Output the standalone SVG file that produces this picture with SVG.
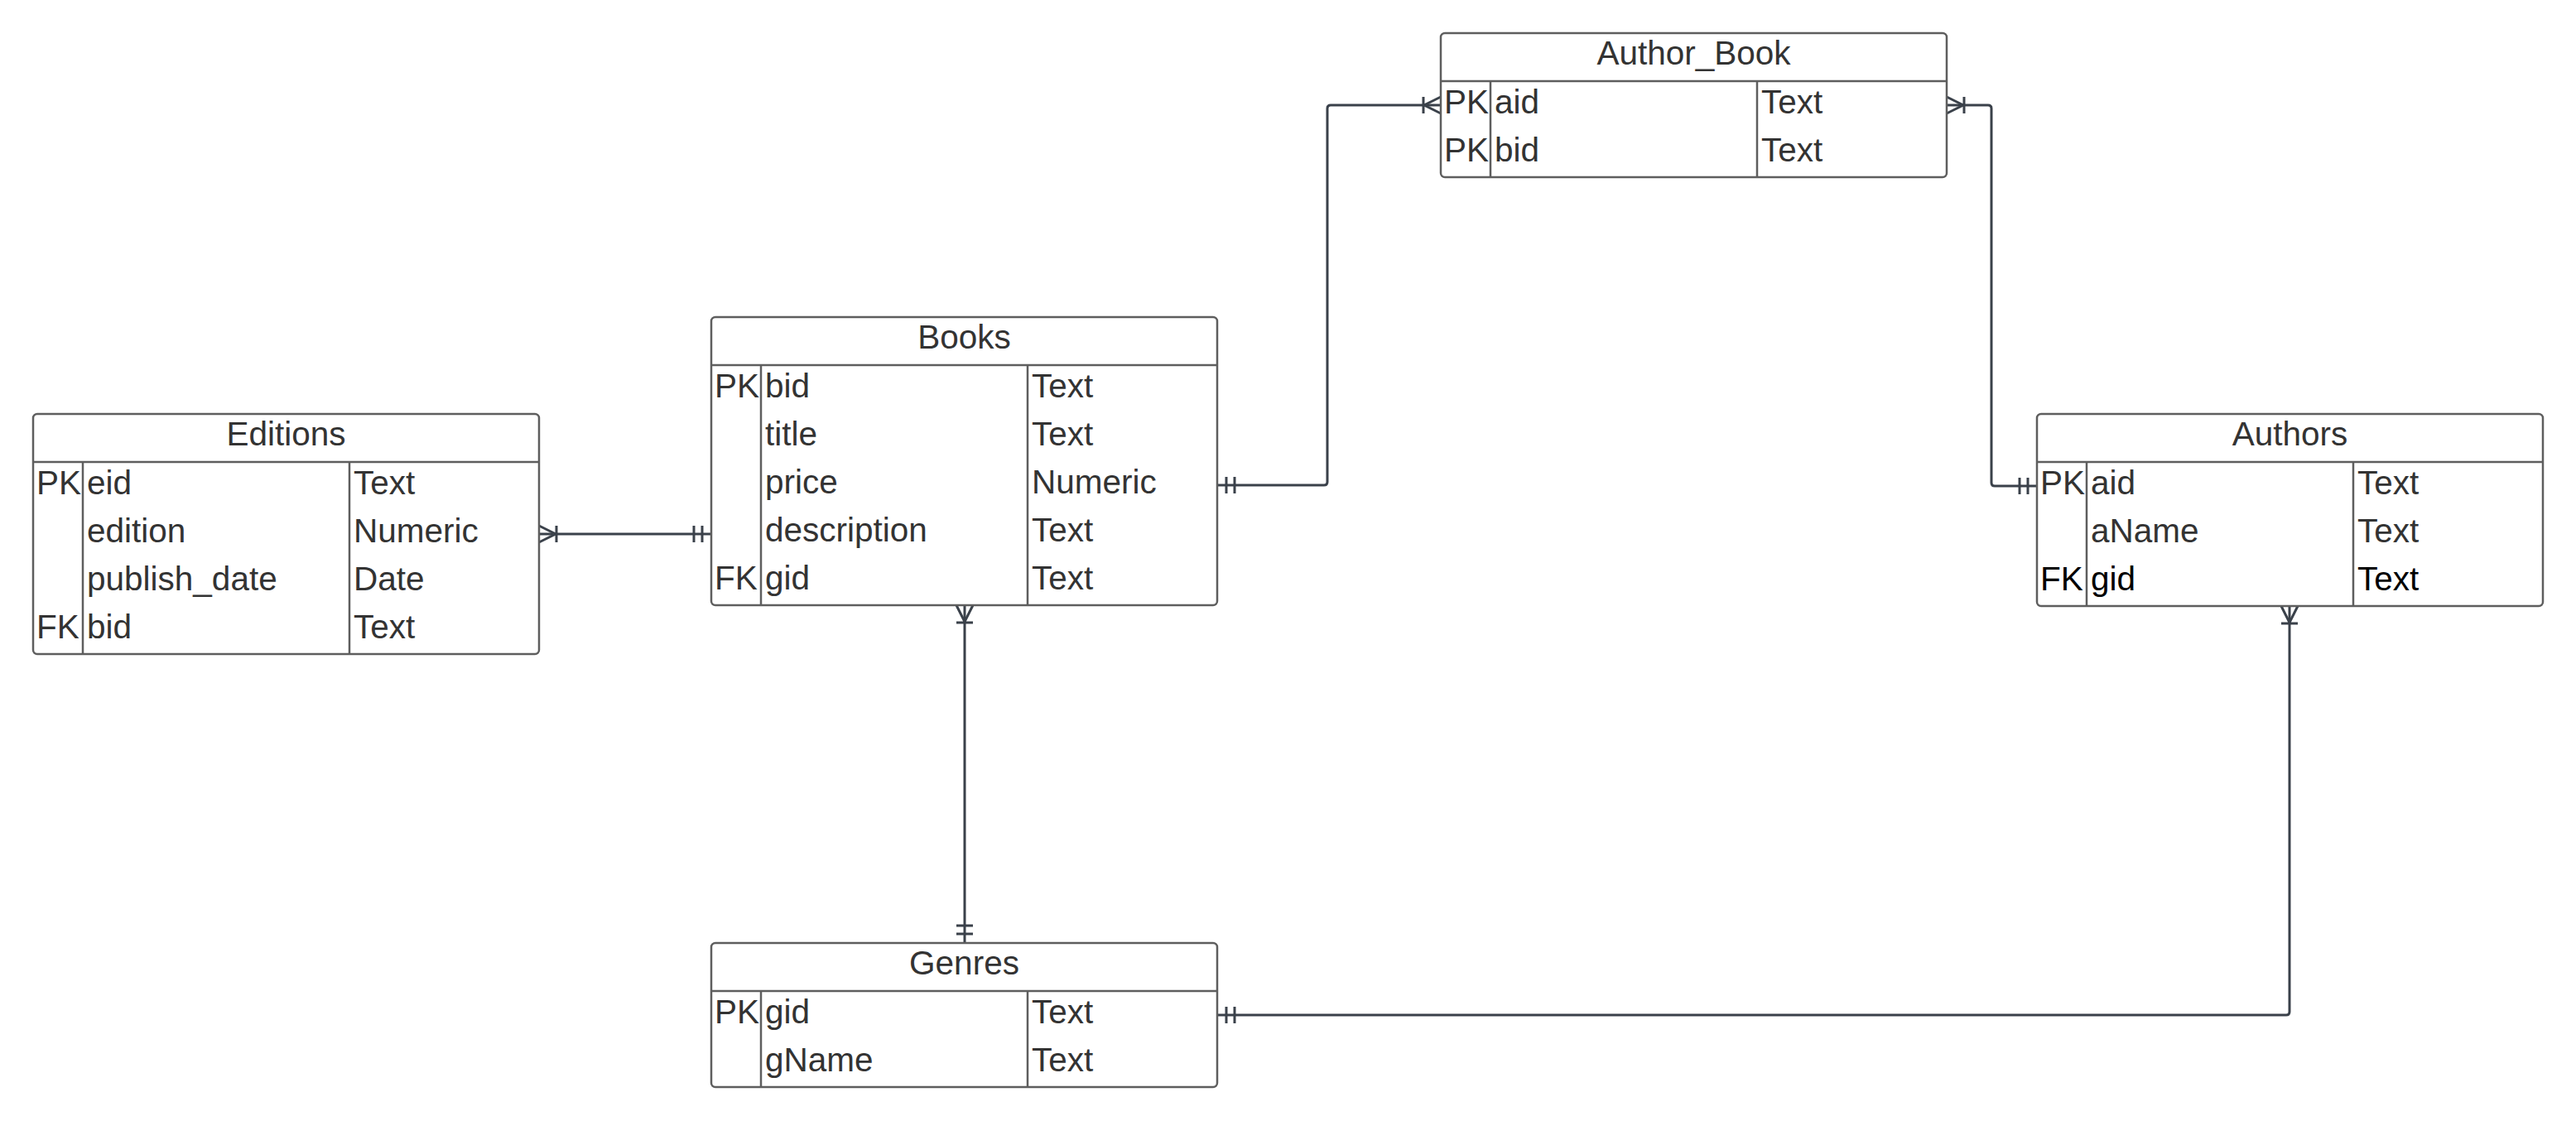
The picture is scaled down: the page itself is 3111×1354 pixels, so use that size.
<svg xmlns="http://www.w3.org/2000/svg" width="3111" height="1354" viewBox="0 0 3111 1354">
<style>
  .box { fill: #ffffff; stroke: #5e5e5e; stroke-width: 2.5; }
  .div { stroke: #5e5e5e; stroke-width: 2.5; fill: none; }
  .t { font-family: "Liberation Sans", Arial, sans-serif; font-size: 40.5px; fill: #333333; }
  .title { text-anchor: middle; }
  .dark { fill: #000000; }
  .conn { fill: none; stroke: #3a414a; stroke-width: 3; stroke-linejoin: round; }
  .mk { fill: none; stroke: #3a414a; stroke-width: 3; }
</style>
<defs>
  <marker id="one" markerUnits="userSpaceOnUse" viewBox="-30 -15 32 30" markerWidth="32" markerHeight="30" refX="0" refY="0" orient="auto-start-reverse" overflow="visible">
    <path class="mk" d="M-11,-10 V10 M-21,-10 V10"/>
  </marker>
  <marker id="many" markerUnits="userSpaceOnUse" viewBox="-30 -15 32 30" markerWidth="32" markerHeight="30" refX="0" refY="0" orient="auto-start-reverse" overflow="visible">
    <path class="mk" d="M0,-10 L-20,0 L0,10 M-21,-10 V10"/>
  </marker>
</defs>
<rect width="3111" height="1354" fill="#ffffff"/>

<g id="connectors">
  <path id="c-editions-books" class="conn" marker-start="url(#many)" marker-end="url(#one)" d="M651,645 H859"/>
  <path id="c-books-authorbook" class="conn" marker-start="url(#one)" marker-end="url(#many)" d="M1470,586 H1599 Q1603,586 1603,582 V131 Q1603,127 1607,127 H1740"/>
  <path id="c-authorbook-authors" class="conn" marker-start="url(#many)" marker-end="url(#one)" d="M2351,127 H2401 Q2405,127 2405,131 V583 Q2405,587 2409,587 H2460"/>
  <path id="c-books-genres" class="conn" marker-start="url(#many)" marker-end="url(#one)" d="M1165,731 V1139"/>
  <path id="c-genres-authors" class="conn" marker-start="url(#one)" marker-end="url(#many)" d="M1470,1226 H2761 Q2765,1226 2765,1222 V732"/>
</g>

<g id="editions">
  <rect class="box" x="40" y="500" width="611" height="290" rx="5"/>
  <path class="div" d="M40,558 H651 M100,558 V790 M422,558 V790"/>
  <text class="t title" x="345.5" y="538">Editions</text>
  <text class="t" x="44" y="597">PK</text><text class="t" x="105" y="597">eid</text><text class="t" x="427" y="597">Text</text>
  <text class="t" x="105" y="655">edition</text><text class="t" x="427" y="655">Numeric</text>
  <text class="t" x="105" y="713">publish_date</text><text class="t" x="427" y="713">Date</text>
  <text class="t" x="44" y="771">FK</text><text class="t" x="105" y="771">bid</text><text class="t" x="427" y="771">Text</text>
</g>

<g id="books">
  <rect class="box" x="859" y="383" width="611" height="348" rx="5"/>
  <path class="div" d="M859,441 H1470 M919,441 V731 M1241,441 V731"/>
  <text class="t title" x="1164.5" y="421">Books</text>
  <text class="t" x="863" y="480">PK</text><text class="t" x="924" y="480">bid</text><text class="t" x="1246" y="480">Text</text>
  <text class="t" x="924" y="538">title</text><text class="t" x="1246" y="538">Text</text>
  <text class="t" x="924" y="596">price</text><text class="t" x="1246" y="596">Numeric</text>
  <text class="t" x="924" y="654">description</text><text class="t" x="1246" y="654">Text</text>
  <text class="t" x="863" y="712">FK</text><text class="t" x="924" y="712">gid</text><text class="t" x="1246" y="712">Text</text>
</g>

<g id="author_book">
  <rect class="box" x="1740" y="40" width="611" height="174" rx="5"/>
  <path class="div" d="M1740,98 H2351 M1800,98 V214 M2122,98 V214"/>
  <text class="t title" x="2045.5" y="78">Author_Book</text>
  <text class="t" x="1744" y="137">PK</text><text class="t" x="1805" y="137">aid</text><text class="t" x="2127" y="137">Text</text>
  <text class="t" x="1744" y="195">PK</text><text class="t" x="1805" y="195">bid</text><text class="t" x="2127" y="195">Text</text>
</g>

<g id="authors">
  <rect class="box" x="2460" y="500" width="611" height="232" rx="5"/>
  <path class="div" d="M2460,558 H3071 M2520,558 V732 M2842,558 V732"/>
  <text class="t title" x="2765.5" y="538">Authors</text>
  <text class="t" x="2464" y="597">PK</text><text class="t" x="2525" y="597">aid</text><text class="t" x="2847" y="597">Text</text>
  <text class="t" x="2525" y="655">aName</text><text class="t" x="2847" y="655">Text</text>
  <text class="t dark" x="2464" y="713">FK</text><text class="t dark" x="2525" y="713">gid</text><text class="t dark" x="2847" y="713">Text</text>
</g>

<g id="genres">
  <rect class="box" x="859" y="1139" width="611" height="174" rx="5"/>
  <path class="div" d="M859,1197 H1470 M919,1197 V1313 M1241,1197 V1313"/>
  <text class="t title" x="1164.5" y="1177">Genres</text>
  <text class="t" x="863" y="1236">PK</text><text class="t" x="924" y="1236">gid</text><text class="t" x="1246" y="1236">Text</text>
  <text class="t" x="924" y="1294">gName</text><text class="t" x="1246" y="1294">Text</text>
</g>
</svg>
